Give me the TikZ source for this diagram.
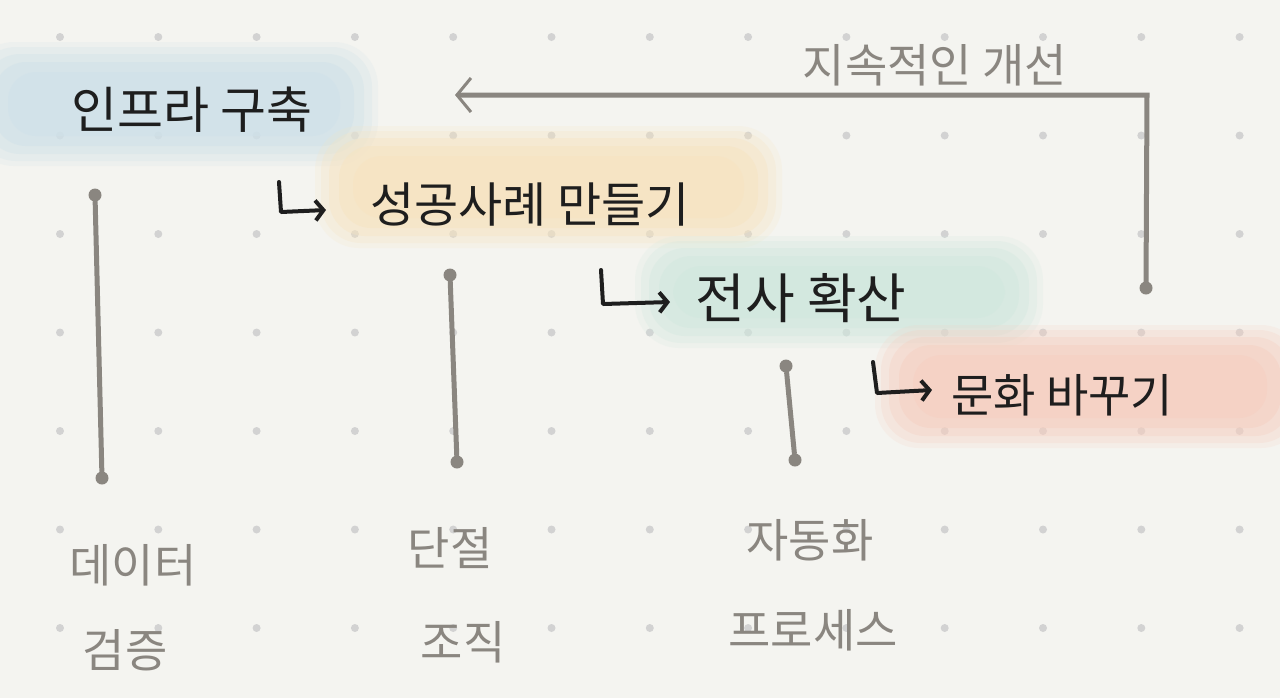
\documentclass[tikz,border=0pt]{standalone}
\usepackage{fontspec}
\newfontfamily\kr{Noto Sans CJK KR}
\usetikzlibrary{arrows.meta}
\definecolor{bg}{HTML}{F4F4F0}
\definecolor{dotc}{HTML}{D2D2D2}
\definecolor{lineg}{HTML}{8A8680}
\definecolor{ink}{HTML}{1E1E1E}
\definecolor{wblue}{HTML}{CFE1E9}
\definecolor{wyellow}{HTML}{F7E4C0}
\definecolor{wgreen}{HTML}{D0E8DE}
\definecolor{wpink}{HTML}{F6CFC1}
\tikzset{
  gridDot/.style={circle,fill=dotc,inner sep=0pt,minimum size=4pt},
  endDot/.style={circle,fill=lineg,inner sep=0pt,minimum size=6.5pt},
  stage/.style={font=\kr\fontsize{#1}{26}\selectfont,text=ink,inner sep=0pt},
  glabel/.style={font=\kr\fontsize{23}{25}\selectfont,text=lineg,inner sep=0pt},
  stem/.style={draw=lineg,line width=2.5pt,line cap=round},
  hook/.style={draw=ink,line width=2pt,line cap=round,line join=round,-{Straight Barb[length=4pt,width=10pt,line width=2pt]}},
  loopline/.style={draw=lineg,line width=2.5pt,line join=miter,-{Straight Barb[length=7pt,width=17pt,line width=1.5pt]}},
}
\newcommand{\wash}[5]{%
  \fill[#1,opacity=0.18,rounded corners=22pt] (#2-10,#3-8) rectangle (#4+10,#5+8);
  \fill[#1,opacity=0.25,rounded corners=20pt] (#2-4,#3-3) rectangle (#4+4,#5+3);
  \fill[#1,opacity=0.35,rounded corners=18pt] (#2+4,#3+4) rectangle (#4-4,#5-4);
  \fill[#1,opacity=0.45,rounded corners=16pt] (#2+14,#3+12) rectangle (#4-14,#5-12);
  \fill[#1,opacity=0.5,rounded corners=14pt] (#2+28,#3+22) rectangle (#4-28,#5-22);
}
\begin{document}
\begin{tikzpicture}[x=0.5pt,y=-0.5pt]
\useasboundingbox (0,0) rectangle (1280,698);
\fill[bg] (0,0) rectangle (1280,698);
% dot grid
\foreach \i in {0,...,12} {
  \foreach \j in {0,...,6} {
    \node[gridDot] at ({60+98.3*\i},{37+98.5*\j}) {};
  }
}
% washes
\wash{wblue}{-20}{50}{368}{158}
\wash{wyellow}{325}{134}{772}{240}
\wash{wgreen}{645}{244}{1033}{340}
\wash{wpink}{885}{333}{1295}{440}
% stage nodes
\node[stage=25] (infra) at (192,110) {인프라 구축};
\node[stage=24] (success) at (530,205) {성공사례 만들기};
\node[stage=27] (spread) at (801,298) {전사 확산};
\node[stage=23] (culture) at (1062,395) {문화 바꾸기};
% hook arrows
\coordinate (h1) at (279,182);
\coordinate (h1b) at (281,212);
\coordinate (h1c) at (326,210);
\draw[hook] (h1) -- (h1b) -- (h1c);
\coordinate (h2) at (601,270);
\coordinate (h2b) at (603,304);
\coordinate (h2c) at (670,302);
\draw[hook] (h2) -- (h2b) -- (h2c);
\coordinate (h3) at (873,362);
\coordinate (h3b) at (877,393);
\coordinate (h3c) at (932,390);
\draw[hook] (h3) -- (h3b) -- (h3c);
% feedback loop
\node[endDot] (ls) at (1146,288) {};
\coordinate (lc) at (1147,95);
\coordinate (le) at (455,95);
\draw[loopline] (ls.center) -- (lc) -- (le);
\node[glabel] (looplab) at (935,65) {지속적인 개선};
% stems
\node[endDot] (s1a) at (95,195) {};
\node[endDot] (s1b) at (102,478) {};
\draw[stem] (s1a) -- (s1b);
\node[endDot] (s2a) at (450,275) {};
\node[endDot] (s2b) at (457,462) {};
\draw[stem] (s2a) -- (s2b);
\node[endDot] (s3a) at (786,366) {};
\node[endDot] (s3b) at (795,460) {};
\draw[stem] (s3a) -- (s3b);
% bottom labels
\node[glabel] (l1a) at (133,565) {데이터};
\node[glabel] (l1b) at (125,650) {검증};
\node[glabel] (l2a) at (450,548) {단절};
\node[glabel] (l2b) at (463,642) {조직};
\node[glabel] (l3a) at (810,540) {자동화};
\node[glabel] (l3b) at (813,630) {프로세스};
\end{tikzpicture}
\end{document}
